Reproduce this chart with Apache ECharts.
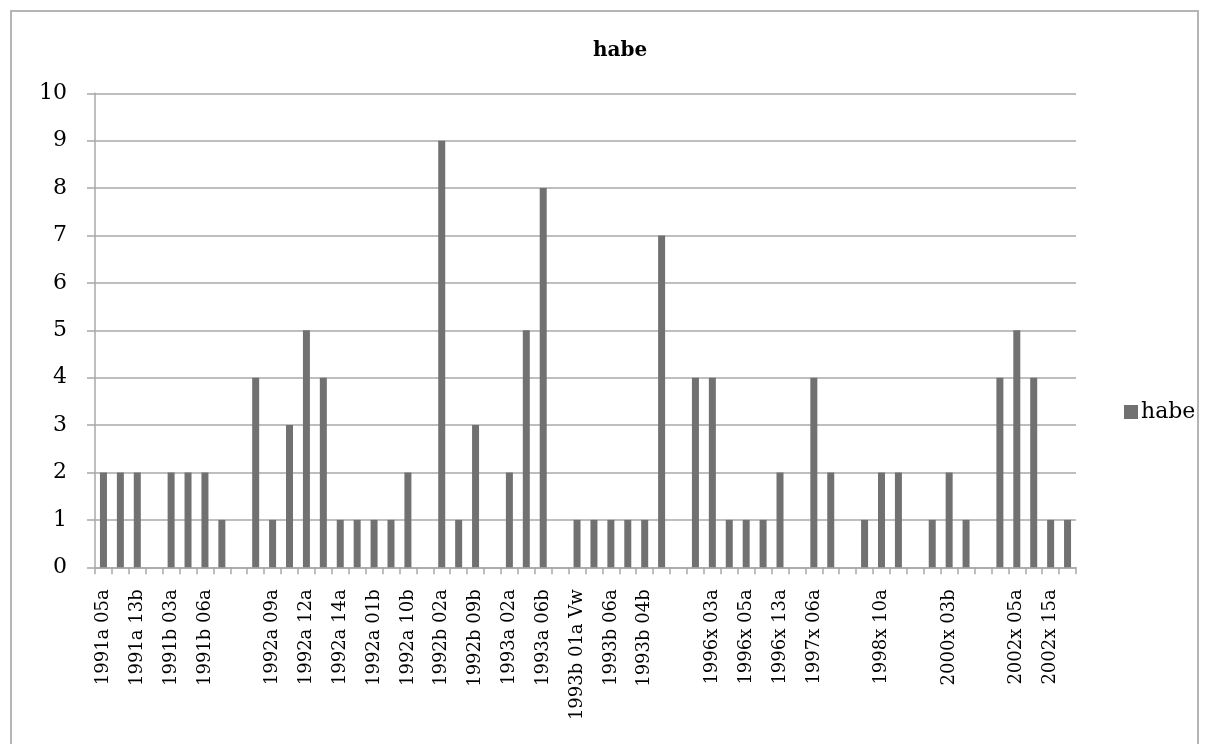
<!DOCTYPE html>
<html>
<head>
<meta charset="utf-8">
<script src="https://cdn.jsdelivr.net/npm/echarts@6/dist/echarts.min.js"></script>
<style>
html,body{margin:0;padding:0;background:#fff;}
#chart{width:1210px;height:744px;}
</style>
</head>
<body>
<div id="chart"></div>
<script>
// Categories (only every other label is legible in the reference; hidden ones left blank)
const categories = [
  "1991a 05a","","1991a 13b","","1991b 03a","","1991b 06a","","","",
  "1992a 09a","","1992a 12a","","1992a 14a","","1992a 01b","","1992a 10b","",
  "1992b 02a","","1992b 09b","","1993a 02a","","1993a 06b","","1993b 01a Vw","",
  "1993b 06a","","1993b 04b","","","","1996x 03a","","1996x 05a","",
  "1996x 13a","","1997x 06a","","","","1998x 10a","","","",
  "2000x 03b","","","","2002x 05a","","2002x 15a",""
];
const habe = [
  2,2,2,0,2,2,2,1,0,4,
  1,3,5,4,1,1,1,1,2,0,
  9,1,3,0,2,5,8,0,1,1,
  1,1,1,7,0,4,4,1,1,1,
  2,0,4,2,0,1,2,2,0,1,
  2,1,0,4,5,4,1,1
];
const yTicks = [0,1,2,3,4,5,6,7,8,9,10];
const seriesName = "habe";
const chartTitle = "habe";

const FONT = "DejaVu Serif";
const chart = echarts.init(document.getElementById('chart'), null, {renderer:'canvas'});
chart.setOption({
  animation:false,
  backgroundColor:'#fff',
  graphic:[{
    type:'rect', shape:{x:11,y:11,width:1187,height:800},
    style:{fill:'none', stroke:'#b5b5b5', lineWidth:2}, silent:true
  }],
  title:{
    text:chartTitle, left:588, top:36,
    textStyle:{fontFamily:FONT, fontWeight:'bold', fontSize:20, color:'#000'}
  },
  legend:{
    data:[seriesName], left:1119, top:396, itemWidth:14, itemHeight:14, itemGap:4,
    icon:'rect',
    textStyle:{fontFamily:FONT, fontSize:22, color:'#000', padding:[0,0,0,-2]}
  },
  grid:{left:95, right:134, top:93.3, bottom:176.7, containLabel:false},
  xAxis:{
    type:'category', data:categories, boundaryGap:true,
    axisLine:{show:true, lineStyle:{color:'#a8a8a8', width:1.5}},
    axisTick:{show:true, interval:0, length:7, lineStyle:{color:'#a8a8a8', width:1.5}},
    axisLabel:{interval:1, rotate:90, margin:22, fontFamily:FONT, fontSize:18, color:'#000'},
    splitLine:{show:false}
  },
  yAxis:{
    type:'value', min:yTicks[0], max:yTicks[yTicks.length-1], interval:1,
    axisLine:{show:true, lineStyle:{color:'#a8a8a8', width:1.5}},
    axisTick:{show:true, length:8, lineStyle:{color:'#a8a8a8', width:1.5}},
    axisLabel:{margin:28, fontFamily:FONT, fontSize:22, color:'#000'},
    splitLine:{show:true, lineStyle:{color:'#a8a8a8', width:1.5}}
  },
  series:[{
    name:seriesName, type:'bar', data:habe, barWidth:7,
    itemStyle:{color:'#717171'}
  }]
});
</script>
</body>
</html>
